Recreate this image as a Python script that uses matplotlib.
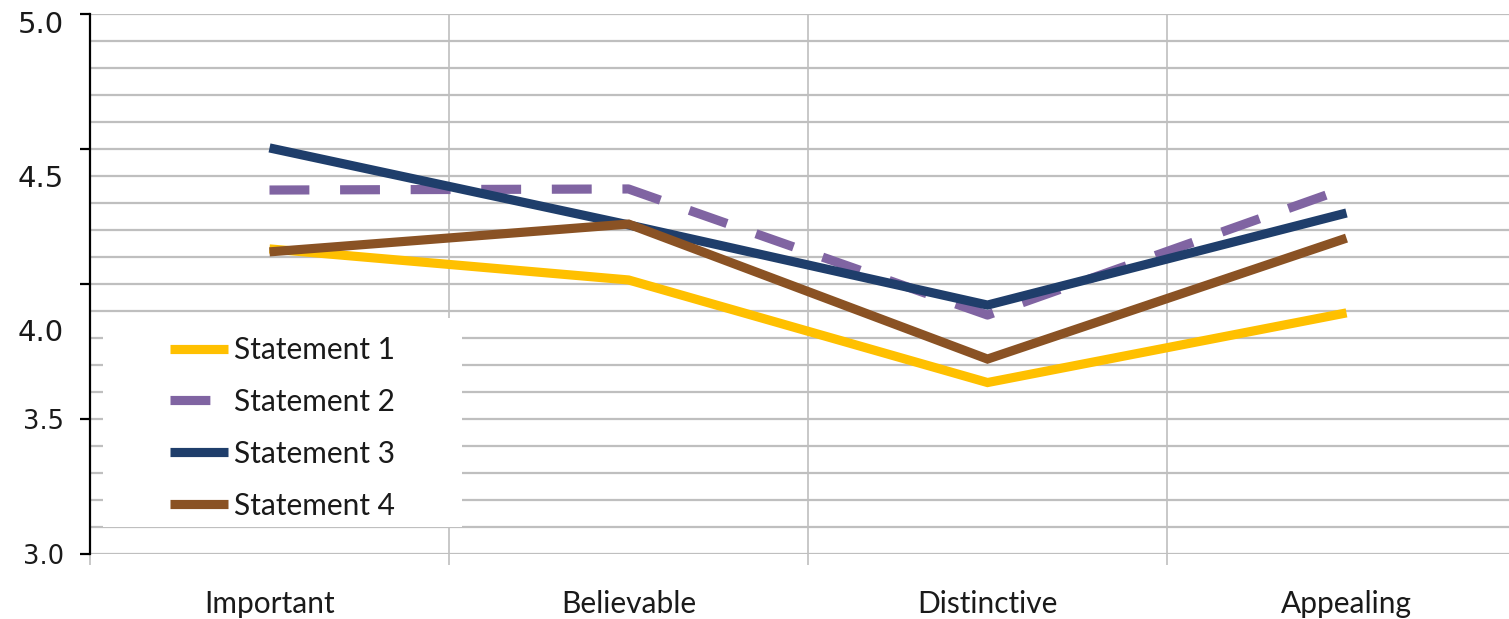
import matplotlib
matplotlib.use("Agg")
import matplotlib.pyplot as plt
from matplotlib.patches import Rectangle
import numpy as np

categories = ["Important", "Believable", "Distinctive", "Appealing"]
series_names = ["Statement 1", "Statement 2", "Statement 3", "Statement 4"]
s1 = [4.13, 4.015, 3.635, 3.893]
s2 = [4.348, 4.352, 3.885, 4.356]
s3 = [4.504, 4.219, 3.922, 4.263]
s4 = [4.119, 4.222, 3.722, 4.170]
ytick_labels = ["3.0", "3.5", "4.0", "4.5", "5.0"]
ytick_values = [3.0, 3.5, 4.0, 4.5, 5.0]

colors = ["#FFC000", "#8064A2", "#1F3E6B", "#8A5224"]

W, H = 1509, 619
fig = plt.figure(figsize=(W / 100, H / 100), dpi=100)
fx = lambda px: px / W
fy = lambda py: 1 - py / H

ax = fig.add_axes([fx(90), fy(554), (1526 - 90) / W, (554 - 14) / H])
ax.set_xlim(-0.5, 3.5)
ax.set_ylim(3.0, 5.0)

grid_c = "#BFBFBF"
# horizontal gridlines every 0.1
for y in np.arange(3.0, 5.0001, 0.1):
    ax.axhline(y, color=grid_c, lw=1.6, zorder=1)
# vertical gridlines at category boundaries
for x in np.arange(0.5, 3.5, 1.0):
    ax.axvline(x, color=grid_c, lw=1.2, zorder=1)

for sp in ["top", "right", "bottom"]:
    ax.spines[sp].set_visible(False)
ax.spines["left"].set_color("black")
ax.spines["left"].set_linewidth(1.6)
ax.spines["left"].set_zorder(3)

x = np.arange(len(categories))
data = [s1, s2, s3, s4]
handles = []
for i, (vals, name) in enumerate(zip(data, series_names)):
    ln, = ax.plot(x, vals, color=colors[i], lw=6.6, label=name, zorder=4 + i,
                  solid_capstyle="butt", solid_joinstyle="miter",
                  dash_capstyle="butt")
    if i == 1:
        ln.set_dashes([4.35, 3.35])
    handles.append(ln)

# y ticks: marks only, labels placed as text
ax.set_yticks(ytick_values)
ax.set_yticklabels([])
ax.tick_params(axis="y", which="major", direction="out", length=7.5, width=1.6, color="black")

# x ticks: labels at centers, grey marks at boundaries
ax.set_xticks(x)
ax.set_xticklabels(categories, fontfamily="Lato", fontsize=21.5, color="#1a1a1a")
ax.tick_params(axis="x", which="major", length=0, pad=26)
ax.set_xticks(np.arange(-0.5, 3.0, 1.0), minor=True)
ax.tick_params(axis="x", which="minor", direction="out", length=8, width=1.2, color=grid_c)

# y labels (as drawn in the reference, slightly offset)
label_pos = [2.99, 3.49, 3.82, 4.39, 4.96]
label_size = [18.5, 18.5, 21, 21, 21]
for lab, yp, fs in zip(ytick_labels, label_pos, label_size):
    ax.text(fx(64), ax.transData.transform((0, yp))[1] / (H), lab,
            transform=fig.transFigure, ha="right", va="center",
            fontsize=fs, fontfamily="DejaVu Sans", color="#1a1a1a")

# legend background
rect = Rectangle((fx(103), fy(527)), fx(462) - fx(103), fy(318) - fy(527),
                 transform=fig.transFigure, facecolor="white", edgecolor="none", zorder=2)
fig.add_artist(rect)
leg = fig.legend(handles=handles, loc="upper left",
                 bbox_to_anchor=(fx(170), fy(336)), bbox_transform=fig.transFigure,
                 frameon=False, borderpad=0, borderaxespad=0,
                 handlelength=1.94, handletextpad=0.22, labelspacing=0.8,
                 prop={"family": "Lato", "size": 21.5})
leg.set_zorder(6)
for t in leg.get_texts():
    t.set_color("#1a1a1a")

fig.savefig("out.png", dpi=100)
